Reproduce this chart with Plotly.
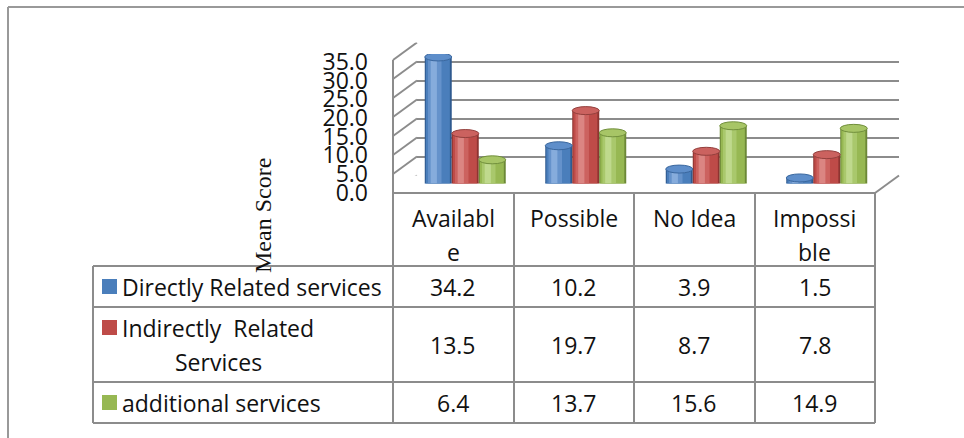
import plotly.graph_objects as go

# ---- data -------------------------------------------------------------
categories = ["Available", "Possible", "No Idea", "Impossible"]
header_lines = [["Availabl", "e"], ["Possible"], ["No Idea"], ["Impossi", "ble"]]

series_names = ["Directly Related services", "Indirectly Related Services", "additional services"]
legend_lines = [["Directly Related services"], ["Indirectly\u00a0 Related", "Services"], ["additional services"]]

directly_related = [34.2, 10.2, 3.9, 1.5]
indirectly_related = [13.5, 19.7, 8.7, 7.8]
additional = [6.4, 13.7, 15.6, 14.9]
series_values = [directly_related, indirectly_related, additional]

y_ticks = [0, 5, 10, 15, 20, 25, 30, 35]
axis_title = "Mean Score"

# ---- styling ----------------------------------------------------------
W, H = 964, 438
FONT = "Open Sans"
FS = 23
LINE = "#8c8c8c"

# shades per series: edge, body, light, highlight, top face, top outline
shades = [
    ["#2F5A8F", "#4A7EBB", "#6592CB", "#86ACDC", "#5E8ECA", "#3A679E"],
    ["#8E3431", "#BE4B48", "#CC625F", "#DB8582", "#CB625F", "#93403D"],
    ["#6C8837", "#97B853", "#A9C86C", "#BFD98D", "#A7C566", "#718F3C"],
]
layers = [(0.0, 1.0), (0.04, 0.93), (0.12, 0.62), (0.22, 0.45)]


def px(x):
    return x / W


def py(y):
    return 1 - y / H


# geometry of the 3-D box (pixels)
FRONT_L, FRONT_R = 393, 875
DEPTH_X, DEPTH_Y = 24, 17.5
BACK_ZERO, BACK_TOP = 175.5, 42.5
BAR_ZERO, BAR_TOP = 183.5, 54.0
LABEL_ZERO, LABEL_TOP = 192.5, 62.0
LABEL_RIGHT = 368
depth_units = DEPTH_Y * 35 / (BACK_ZERO - BACK_TOP)

col_edges = [393, 514, 634, 755, 875]
row_edges = [193, 266, 307, 382, 423]
TABLE_L = 93

fig = go.Figure()

# back wall subplot (x / y): gridlines only
fig.add_trace(go.Scatter(x=[0, 1], y=[0, 0], mode="markers",
                         marker=dict(opacity=0), hoverinfo="skip",
                         showlegend=False, xaxis="x", yaxis="y"))

# cylinders (x2 / y2)
n = len(series_values)
bar_w = 0.224
for i, vals in enumerate(series_values):
    start = -n / 2 * bar_w + i * bar_w
    for j, (a, b) in enumerate(layers):
        fig.add_trace(go.Bar(
            x=categories, y=vals, name=series_names[i],
            width=bar_w * (b - a), offset=start + bar_w * a,
            marker=dict(color=shades[i][j], line=dict(width=0)),
            showlegend=False, hoverinfo="skip" if j else "y+name",
            xaxis="x2", yaxis="y2"))

# rounded bottoms and lit tops of the cylinders
e_units = 4.0 * 35 / (BAR_ZERO - BAR_TOP)
for i, vals in enumerate(series_values):
    start = -n / 2 * bar_w + i * bar_w
    for k, v in enumerate(vals):
        x0, x1 = k + start, k + start + bar_w
        fig.add_shape(type="circle", xref="x2", yref="y2", layer="below",
                      x0=x0, x1=x1, y0=-e_units, y1=e_units,
                      fillcolor=shades[i][1], line=dict(width=0))
        fig.add_shape(type="circle", xref="x2", yref="y2",
                      x0=x0, x1=x1, y0=v - e_units, y1=v + e_units,
                      fillcolor=shades[i][4],
                      line=dict(color=shades[i][5], width=1))

# front value axis + table columns (x3 / y3)
fig.add_trace(go.Scatter(x=categories, y=[0] * len(categories), mode="markers",
                         marker=dict(opacity=0), hoverinfo="skip",
                         showlegend=False, xaxis="x3", yaxis="y3"))

# side wall: slanted lines joining front and back at every tick
for t in y_ticks:
    fig.add_shape(type="line", xref="paper", yref="y",
                  x0=px(FRONT_L), x1=px(FRONT_L + DEPTH_X),
                  y0=t - depth_units, y1=t,
                  line=dict(color=LINE, width=2))

# floor right edge
fig.add_shape(type="line", xref="paper", yref="paper",
              x0=px(FRONT_R), y0=py(row_edges[0]),
              x1=px(FRONT_R + DEPTH_X), y1=py(BACK_ZERO),
              line=dict(color=LINE, width=2))

# table grid
for k, y in enumerate(row_edges):
    left = FRONT_L if k == 0 else TABLE_L
    fig.add_shape(type="line", xref="paper", yref="paper",
                  x0=px(left), x1=px(FRONT_R), y0=py(y), y1=py(y),
                  line=dict(color=LINE, width=2))
for x in col_edges:
    top = LABEL_TOP - 2 if x == FRONT_L else row_edges[0]
    fig.add_shape(type="line", xref="paper", yref="paper",
                  x0=px(x), x1=px(x), y0=py(top), y1=py(row_edges[-1]),
                  line=dict(color=LINE, width=2))
fig.add_shape(type="line", xref="paper", yref="paper",
              x0=px(TABLE_L), x1=px(TABLE_L), y0=py(row_edges[1]), y1=py(row_edges[-1]),
              line=dict(color=LINE, width=2))

# outer frame
fig.add_shape(type="line", xref="paper", yref="paper",
              x0=px(8), x1=1, y0=py(7), y1=py(7), line=dict(color="#999999", width=2))
fig.add_shape(type="line", xref="paper", yref="paper",
              x0=px(8), x1=px(8), y0=py(7), y1=0, line=dict(color="#999999", width=2))

annotations = []
text_font = dict(family=FONT, size=FS, color="#111111")
LINE_GAP = 34

# category headers
for cat, lines in zip(categories, header_lines):
    for li, line in enumerate(lines):
        annotations.append(dict(x=cat, xref="x3", y=py(218 + li * LINE_GAP), yref="paper",
                                text=line, showarrow=False, font=text_font,
                                xanchor="center", yanchor="middle"))

# table rows: legend key, series label, values
row_centers = [(row_edges[r + 1] + row_edges[r + 2]) / 2 for r in range(n)]
for i in range(n):
    lines = legend_lines[i]
    first_y = row_centers[i] - (len(lines) - 1) * LINE_GAP / 2
    fig.add_shape(type="rect", xref="paper", yref="paper",
                  x0=px(102), x1=px(117), y0=py(first_y - 7.5), y1=py(first_y + 7.5),
                  fillcolor=shades[i][1], line=dict(width=0))
    for li, line in enumerate(lines):
        annotations.append(dict(x=px(120 if li == 0 else 173), xref="paper",
                                y=py(first_y + li * LINE_GAP), yref="paper",
                                text=line, showarrow=False, font=text_font,
                                xanchor="left", yanchor="middle"))
    for cat, v in zip(categories, series_values[i]):
        annotations.append(dict(x=cat, xref="x3", y=py(row_centers[i]), yref="paper",
                                text=f"{v:.1f}", showarrow=False, font=text_font,
                                xanchor="center", yanchor="middle"))

# value-axis title
annotations.append(dict(x=px(263), y=py(216), xref="paper", yref="paper",
                        xanchor="center", yanchor="middle",
                        text=axis_title, textangle=-90, showarrow=False,
                        font=dict(family="Liberation Serif", size=24, color="#111111")))

fig.update_layout(
    width=W, height=H, autosize=False,
    margin=dict(l=0, r=0, t=0, b=0, pad=0, autoexpand=False),
    paper_bgcolor="white", plot_bgcolor="rgba(0,0,0,0)",
    barmode="overlay", showlegend=False,
    annotations=annotations,
    xaxis=dict(domain=[px(FRONT_L + DEPTH_X), px(FRONT_R + DEPTH_X)], range=[0, 1],
               visible=False, fixedrange=True),
    yaxis=dict(domain=[py(BACK_ZERO), py(BACK_TOP)], range=[0, 35], tickvals=y_ticks,
               showgrid=True, gridcolor=LINE, gridwidth=2, zeroline=False,
               showticklabels=False, ticks="", showline=False, fixedrange=True),
    xaxis2=dict(domain=[px(col_edges[0] + DEPTH_X / 2), px(col_edges[-1] + DEPTH_X / 2)],
                type="category", categoryarray=categories, range=[-0.5, 3.5],
                visible=False, fixedrange=True),
    yaxis2=dict(domain=[py(BAR_ZERO), py(BAR_TOP)], range=[0, 35], visible=False,
                fixedrange=True),
    xaxis3=dict(domain=[px(col_edges[0]), px(col_edges[-1])], type="category",
                categoryarray=categories, range=[-0.5, 3.5], visible=False,
                fixedrange=True),
    yaxis3=dict(domain=[py(LABEL_ZERO), py(LABEL_TOP)], range=[0, 35], tickvals=y_ticks,
                tickformat=".1f", showgrid=False, zeroline=False, showline=False,
                ticks="", anchor="free", position=px(LABEL_RIGHT),
                tickfont=dict(family=FONT, size=FS, color="#111111"), fixedrange=True),
)

fig.write_html("out.html", config={"displayModeBar": False, "responsive": False})
